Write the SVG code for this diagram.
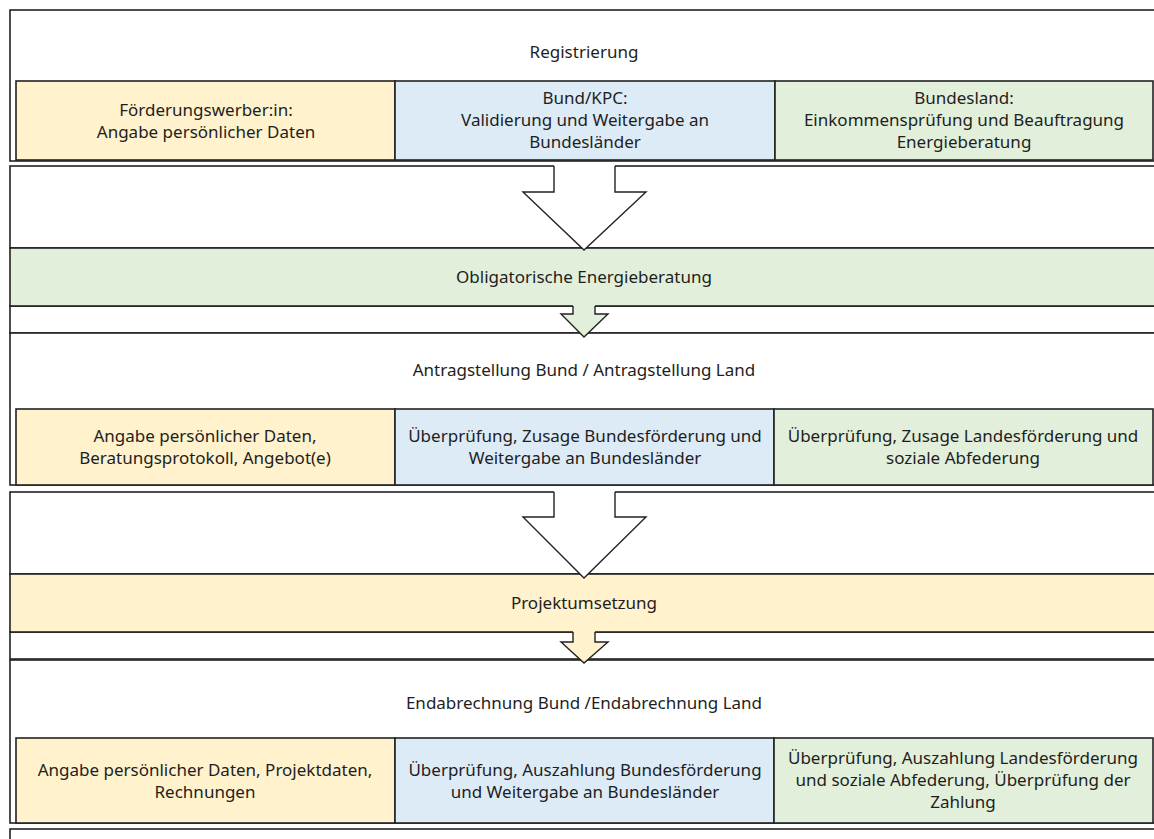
<svg xmlns="http://www.w3.org/2000/svg" width="1154" height="839" viewBox="0 0 1154 839">
<style>
text{font-family:"Noto Sans","Open Sans","Liberation Sans",sans-serif;font-size:17px;fill:#1e1e1e;text-anchor:middle}
.sec{fill:#fff;stroke:#222;stroke-width:1.6}
.box{stroke:#222;stroke-width:1.6}
.y{fill:#fff2cc}.b{fill:#ddebf7}.g{fill:#e2efda}
.af{stroke:none}
.as{fill:none;stroke:#222;stroke-width:1.4;stroke-linejoin:miter}
</style>
<rect width="1154" height="839" fill="#fff"/>
<g id="sections">
<rect class="sec" x="10" y="10" width="1160" height="151" stroke-width="2.2"/>
<rect class="sec" x="10" y="166" width="1160" height="82"/>
<rect class="sec" x="10" y="306" width="1160" height="27"/>
<rect class="sec" x="10" y="333" width="1160" height="152"/>
<rect class="sec" x="10" y="492" width="1160" height="82"/>
<rect class="sec" x="10" y="632" width="1160" height="27"/>
<rect class="sec" x="10" y="660" width="1160" height="163"/>
<rect class="sec" x="10" y="829" width="1160" height="30"/>
</g>
<g id="registrierung">
<text x="584" y="58">Registrierung</text>
</g>
<g id="reg-foerderungswerber">
<rect class="box y" x="16" y="81" width="379" height="79"/>
<text x="206" y="116">Förderungswerber:in:</text>
<text x="206" y="138">Angabe persönlicher Daten</text>
</g>
<g id="reg-bund">
<rect class="box b" x="395" y="81" width="380" height="79"/>
<text x="585" y="104">Bund/KPC:</text>
<text x="585" y="126">Validierung und Weitergabe an</text>
<text x="585" y="148">Bundesländer</text>
</g>
<g id="reg-land">
<rect class="box g" x="775" y="81" width="378" height="79"/>
<text x="964" y="104">Bundesland:</text>
<text x="964" y="126">Einkommensprüfung und Beauftragung</text>
<text x="964" y="148">Energieberatung</text>
</g>
<g id="energieberatung">
<rect class="box g" x="10" y="248" width="1160" height="58"/>
<text x="584" y="283">Obligatorische Energieberatung</text>
</g>
<g id="antragstellung">
<text x="584" y="376">Antragstellung Bund / Antragstellung Land</text>
</g>
<g id="antrag-werber">
<rect class="box y" x="16" y="409" width="379" height="76"/>
<text x="205" y="442">Angabe persönlicher Daten,</text>
<text x="205" y="464">Beratungsprotokoll, Angebot(e)</text>
</g>
<g id="antrag-bund">
<rect class="box b" x="395" y="409" width="379" height="76"/>
<text x="585" y="442">Überprüfung, Zusage Bundesförderung und</text>
<text x="585" y="464">Weitergabe an Bundesländer</text>
</g>
<g id="antrag-land">
<rect class="box g" x="774" y="409" width="379" height="76"/>
<text x="963" y="442">Überprüfung, Zusage Landesförderung und</text>
<text x="963" y="464">soziale Abfederung</text>
</g>
<g id="projektumsetzung">
<rect class="box y" x="10" y="574" width="1160" height="58"/>
<text x="584" y="609">Projektumsetzung</text>
</g>
<g id="endabrechnung">
<text x="584" y="709">Endabrechnung Bund /Endabrechnung Land</text>
</g>
<g id="end-werber">
<rect class="box y" x="16" y="738" width="379" height="85"/>
<text x="205" y="776">Angabe persönlicher Daten, Projektdaten,</text>
<text x="205" y="798">Rechnungen</text>
</g>
<g id="end-bund">
<rect class="box b" x="395" y="738" width="379" height="85"/>
<text x="585" y="776">Überprüfung, Auszahlung Bundesförderung</text>
<text x="585" y="798">und Weitergabe an Bundesländer</text>
</g>
<g id="end-land">
<rect class="box g" x="774" y="738" width="379" height="85"/>
<text x="963" y="764">Überprüfung, Auszahlung Landesförderung</text>
<text x="963" y="786">und soziale Abfederung, Überprüfung der</text>
<text x="963" y="808">Zahlung</text>
</g>
<g id="connectors">
<polygon class="af" fill="#fff" points="554,165 615,165 615,192 646,192 584,250 523,192 554,192"/>
<polyline class="as" points="554,166 554,192 523,192 584,250 646,192 615,192 615,166"/>
<polygon class="af g" points="573,305 595,305 595,314 608,314 584,337 561,314 573,314"/>
<polyline class="as" points="573,306 573,314 561,314 584,337 608,314 595,314 595,306"/>
<polygon class="af" fill="#fff" points="554,491 615,491 615,517 646,517 584,578 523,517 554,517"/>
<polyline class="as" points="554,492 554,517 523,517 584,578 646,517 615,517 615,492"/>
<polygon class="af y" points="573,631 595,631 595,642 608,642 584,663 561,642 573,642"/>
<polyline class="as" points="573,632 573,642 561,642 584,663 608,642 595,642 595,632"/>
</g>
</svg>
